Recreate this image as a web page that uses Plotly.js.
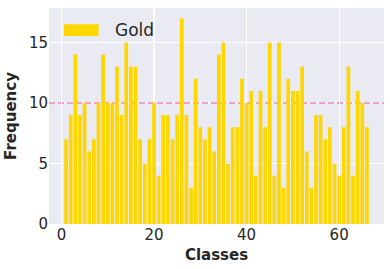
<!DOCTYPE html>
<html>
<head>
<meta charset="utf-8">
<script src="https://cdn.plot.ly/plotly-3.0.1.min.js"></script>
<style>html,body{margin:0;padding:0;background:#fff}#chart{width:390px;height:269px}</style>
</head>
<body>
<div id="chart"></div>
<script>
const classes = Array.from({length: 66}, (_, i) => i + 1);
const frequency = [7,9,14,9,10,6,7,10,14,10,10,13,9,15,13,13,7,5,7,10,4,9,9,7,9,17,9,3,12,8,7,8,6,14,15,5,8,8,12,10,11,4,11,8,15,4,15,3,12,11,11,13,6,3,9,9,7,8,5,4,8,13,4,11,10,8];
const seriesName = "Gold";
const threshold = 10;
const xTicks = [0, 20, 40, 60];
const yTicks = [0, 5, 10, 15];

const font = "DejaVu Sans, sans-serif";
const trace = {
  type: "bar", x: classes, y: frequency, name: seriesName,
  marker: {color: "#FFD700", line: {width: 0}}, width: 0.8, showlegend: false
};
const gridShapes = yTicks.filter(v => v > 0).map(v => ({
  type: "line", xref: "paper", yref: "y", x0: 0, x1: 1, y0: v, y1: v,
  line: {color: "#ffffff", width: 1.2}, layer: "below"
}));
const layout = {
  width: 390, height: 269,
  margin: {l: 49, r: 6, t: 7.5, b: 45},
  paper_bgcolor: "#ffffff", plot_bgcolor: "#EAEAF2",
  font: {family: font, color: "#262626"},
  xaxis: {
    range: [-2.69, 69.69], tickvals: xTicks, ticktext: xTicks.map(String),
    showgrid: true, gridcolor: "#ffffff", gridwidth: 1.2, zeroline: false,
    tickfont: {size: 15, family: font, color: "#262626"}, ticks: "", showline: false,
    title: {text: "<b>Classes</b>", font: {size: 15, family: font, color: "#262626"}, standoff: 6}
  },
  yaxis: {
    range: [0, 17.85], tickvals: yTicks, ticktext: yTicks.map(String),
    showgrid: false, zeroline: false,
    tickfont: {size: 15, family: font, color: "#262626"}, ticks: "", showline: false,
    title: {text: "<b>Frequency</b>", font: {size: 15, family: font, color: "#262626"}, standoff: 8}
  },
  shapes: gridShapes.concat([
    {type: "line", xref: "paper", yref: "y", x0: 0, x1: 1, y0: threshold, y1: threshold,
     line: {color: "#F5A0CB", width: 2, dash: "6px,3px"}, layer: "below"},
    {type: "rect", xref: "paper", yref: "paper", x0: 0.045, x1: 0.148, y0: 0.87, y1: 0.925,
     fillcolor: "#FFD700", line: {width: 0}}
  ]),
  annotations: [
    {xref: "paper", yref: "paper", x: 0.19, y: 0.897, xanchor: "left", yanchor: "middle",
     text: seriesName, showarrow: false, font: {size: 17, family: font, color: "#262626"}}
  ]
};
Plotly.newPlot("chart", [trace], layout, {displayModeBar: false, staticPlot: true});
</script>
</body>
</html>
